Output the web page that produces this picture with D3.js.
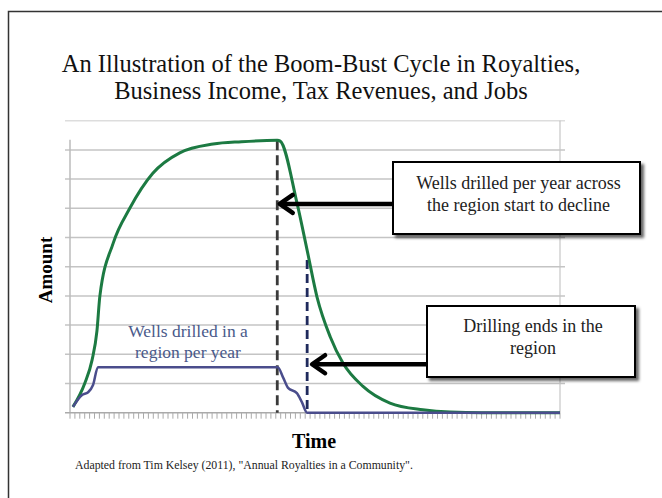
<!DOCTYPE html>
<meta charset="utf-8">
<head>
    <title>Boom-Bust Cycle</title>
    <style>
        body { margin: 0; background: #fff; }
        text { font-family: "Liberation Serif", "DejaVu Serif", serif; }
    </style>
</head>
<body>
    <script src="https://cdn.jsdelivr.net/npm/d3@7"></script>
    <script>
        // time index (0..100) and the two series
        var greenTime = [0.6, 3, 4.5, 5.5, 6.1, 8.8, 12.2, 16.9, 22.4, 29.2, 35, 42.3, 42.9, 46.3, 48.4, 50.4, 53.1, 55.7, 59.8, 65.3, 72, 77.6, 84, 100];
        var greenValues = [0.2, 1.0, 1.8, 2.8, 4.0, 5.8, 7.0, 8.2, 8.9, 9.2, 9.28, 9.33, 9.3, 7.2, 5.56, 3.97, 2.6, 1.7, 0.9, 0.33, 0.1, 0.02, 0, 0];

        var wellsTime = [0.6, 2.4, 3.7, 4.7, 5.7, 42.4, 43.5, 44.5, 46.3, 47.3, 48.4, 100];
        var wellsValues = [0.2, 0.6, 0.7, 0.95, 1.56, 1.56, 1.2, 0.85, 0.67, 0.37, 0.0, 0];

        var gridValues = d3.range(1, 10);   // horizontal gridlines
        var xTicks = d3.range(0, 101);      // minor ticks along time axis

        // events marked by dashed lines
        var declineStart = { t: 42.3, v: 9.33 };
        var drillingEnd = { t: 48.4, v: 5.23 };

        var width = 662, height = 498;

        var svg = d3.select("body")
            .append("svg")
            .attr("width", width)
            .attr("height", height);

        var defs = svg.append("defs");
        defs.append("filter")
            .attr("id", "shadow")
            .attr("x", "-10%").attr("y", "-10%")
            .attr("width", "130%").attr("height", "140%")
            .append("feDropShadow")
            .attr("dx", 3).attr("dy", 3)
            .attr("stdDeviation", 1.5)
            .attr("flood-color", "#000")
            .attr("flood-opacity", 0.6);

        // outer frame
        svg.append("rect")
            .attr("x", 8.5).attr("y", 11.5)
            .attr("width", 700).attr("height", 520)
            .attr("fill", "none")
            .attr("stroke", "#333")
            .attr("stroke-width", 1.5);

        var x = d3.scaleLinear().domain([0, 100]).range([70, 560]);
        var y = d3.scaleLinear().domain([0, 10]).range([412.7, 120.7]);

        // top border line and right side line
        svg.append("line")
            .attr("x1", 65).attr("x2", 565)
            .attr("y1", y(10)).attr("y2", y(10))
            .attr("stroke", "#ddd").attr("stroke-width", 1.5);
        svg.append("line")
            .attr("x1", x(100)).attr("x2", x(100))
            .attr("y1", y(10)).attr("y2", y(0))
            .attr("stroke", "#bbb").attr("stroke-width", 1);

        // gridlines
        svg.append("g")
            .selectAll("line")
            .data(gridValues)
            .enter()
            .append("line")
            .attr("x1", 65).attr("x2", 565)
            .attr("y1", function (d) { return y(d); })
            .attr("y2", function (d) { return y(d); })
            .attr("stroke", "#c4c4c4")
            .attr("stroke-width", 1.5);

        // y axis line
        svg.append("line")
            .attr("x1", x(0)).attr("x2", x(0))
            .attr("y1", y(9.35)).attr("y2", y(0))
            .attr("stroke", "#bbb").attr("stroke-width", 1.5);

        // x axis with minor ticks
        svg.append("line")
            .attr("x1", 65).attr("x2", x(100))
            .attr("y1", y(0)).attr("y2", y(0))
            .attr("stroke", "#aaa").attr("stroke-width", 1.5);
        svg.append("g")
            .selectAll("line")
            .data(xTicks)
            .enter()
            .append("line")
            .attr("x1", function (d) { return x(d); })
            .attr("x2", function (d) { return x(d); })
            .attr("y1", y(0))
            .attr("y2", y(0) + 6)
            .attr("stroke", "#aaa")
            .attr("stroke-width", 1);

        // dashed event lines
        svg.append("line")
            .attr("x1", x(declineStart.t)).attr("x2", x(declineStart.t))
            .attr("y1", y(declineStart.v)).attr("y2", y(0))
            .attr("stroke", "#3a3a3a")
            .attr("stroke-width", 2.8)
            .attr("stroke-dasharray", "10,5");
        svg.append("line")
            .attr("x1", x(drillingEnd.t)).attr("x2", x(drillingEnd.t))
            .attr("y1", y(drillingEnd.v)).attr("y2", y(0))
            .attr("stroke", "#1f2a5c")
            .attr("stroke-width", 2.8)
            .attr("stroke-dasharray", "9,5");

        var line = d3.line()
            .x(function (d) { return x(d[0]); })
            .y(function (d) { return y(d[1]); })
            .curve(d3.curveMonotoneX);

        svg.append("path")
            .datum(d3.zip(greenTime, greenValues))
            .attr("d", line)
            .attr("fill", "none")
            .attr("stroke", "#1c7a42")
            .attr("stroke-width", 3);

        svg.append("path")
            .datum(d3.zip(wellsTime, wellsValues))
            .attr("d", line)
            .attr("fill", "none")
            .attr("stroke", "#4a4d8c")
            .attr("stroke-width", 2.5);

        // series label
        svg.append("text")
            .attr("text-anchor", "middle")
            .attr("fill", "#4a5a8a")
            .style("font-size", "17.5px")
            .selectAll("tspan")
            .data(["Wells drilled in a", "region per year"])
            .enter()
            .append("tspan")
            .attr("x", 188)
            .attr("y", function (d, i) { return 337 + i * 21; })
            .text(function (d) { return d; });

        // annotations: arrow + boxed text
        var notes = [
            { tipT: declineStart.t + 0.5, tipV: 7.15, box: [393, 162, 247, 72], lines: ["Wells drilled per year across", "the region start to decline"], textY: 189 },
            { tipT: drillingEnd.t + 1, tipV: 1.66, box: [427, 306, 208, 71], lines: ["Drilling ends in the", "region"], textY: 332 }
        ];

        notes.forEach(function (n) {
            var tx = x(n.tipT), ty = y(n.tipV);
            svg.append("line")
                .attr("x1", tx + 2).attr("x2", n.box[0])
                .attr("y1", ty).attr("y2", ty)
                .attr("stroke", "#000").attr("stroke-width", 4.5);
            svg.append("path")
                .attr("d", "M" + (tx + 13) + "," + (ty - 9) + "L" + tx + "," + ty + "L" + (tx + 13) + "," + (ty + 9))
                .attr("fill", "none")
                .attr("stroke", "#000")
                .attr("stroke-width", 4.5)
                .attr("stroke-linecap", "round")
                .attr("stroke-linejoin", "round");
            svg.append("rect")
                .attr("x", n.box[0]).attr("y", n.box[1])
                .attr("width", n.box[2]).attr("height", n.box[3])
                .attr("fill", "#fff")
                .attr("stroke", "#000")
                .attr("stroke-width", 2)
                .attr("filter", "url(#shadow)");
            svg.append("text")
                .attr("text-anchor", "middle")
                .attr("fill", "#222")
                .style("font-size", "18px")
                .selectAll("tspan")
                .data(n.lines)
                .enter()
                .append("tspan")
                .attr("x", n.box[0] + n.box[2] / 2 + 2)
                .attr("y", function (d, i) { return n.textY + i * 22; })
                .text(function (d) { return d; });
        });

        // titles
        svg.append("text")
            .attr("text-anchor", "middle")
            .attr("fill", "#111")
            .style("font-size", "24.5px")
            .selectAll("tspan")
            .data(["An Illustration of the Boom-Bust Cycle in Royalties,", "Business Income, Tax Revenues, and Jobs"])
            .enter()
            .append("tspan")
            .attr("x", 321)
            .attr("y", function (d, i) { return 72 + i * 27; })
            .text(function (d) { return d; });

        svg.append("text")
            .attr("transform", "translate(52,270) rotate(-90)")
            .attr("text-anchor", "middle")
            .style("font-size", "19px")
            .style("font-weight", "bold")
            .text("Amount");

        svg.append("text")
            .attr("x", 314).attr("y", 448)
            .attr("text-anchor", "middle")
            .style("font-size", "20px")
            .style("font-weight", "bold")
            .text("Time");

        svg.append("text")
            .attr("x", 75).attr("y", 469)
            .style("font-size", "11.8px")
            .attr("fill", "#222")
            .text("Adapted from Tim Kelsey (2011), \"Annual Royalties in a Community\".");
    </script>
</body>
</html>
